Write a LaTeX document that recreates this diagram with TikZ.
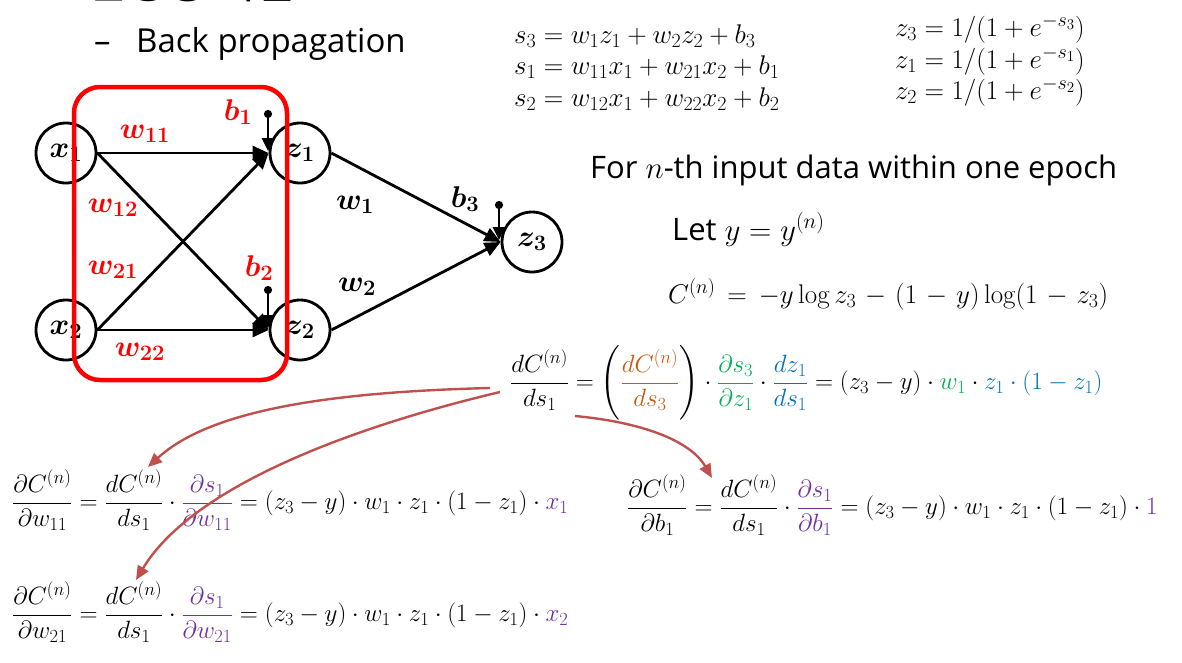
\RequirePackage{fix-cm}
\documentclass[tikz,border=0pt]{standalone}
\usepackage{amsmath}
\usepackage{bm}
\usepackage{fontspec}
\newfontfamily\txtfont{Open Sans}
\newfontfamily\krfont{Noto Sans CJK KR}
\usetikzlibrary{arrows.meta}
\DeclareMathSizes{25}{25}{18.5}{14}
\DeclareMathSizes{27}{27}{20}{15}
\DeclareMathSizes{30}{30}{22}{16}
\definecolor{boxred}{HTML}{FF0000}
\definecolor{arrred}{HTML}{C0504D}
\definecolor{brn}{HTML}{C55A11}
\definecolor{grn}{HTML}{00B050}
\definecolor{blu}{HTML}{0070C0}
\definecolor{pur}{HTML}{7030A0}
\tikzset{
  neuron/.style={circle, draw, line width=2.8pt, minimum size=60pt, inner sep=0pt, font=\fontsize{30}{34}\selectfont},
  conn/.style={line width=2.8pt, -{Triangle[length=16pt,width=14pt]}},
  pinline/.style={line width=2.6pt, {Circle[length=8pt]}-{Triangle[length=13pt,width=12pt]}},
  wlab/.style={font=\fontsize{30}{34}\selectfont, inner sep=0pt},
  redlab/.style={wlab, text=boxred},
  eq/.style={font=\fontsize{25}{29}\selectfont, inner sep=0pt},
  topeq/.style={font=\fontsize{27}{31}\selectfont, inner sep=0pt},
  wideeq/.style={topeq, execute at begin node={\medmuskip=6mu plus 2mu minus 2mu\thickmuskip=8mu plus 2mu}},
  sans/.style={font=\txtfont\fontsize{31}{36}\selectfont, inner sep=0pt},
  curvearr/.style={draw=arrred, line width=2.4pt, -{Triangle[length=14pt,width=12pt]}},
}
\begin{document}
\begin{tikzpicture}[x=1pt,y=-1pt]
\useasboundingbox (0,0) rectangle (1182,662);
% title (cut off at the top edge, as in the reference)
\node[anchor=base west, inner sep=0pt, font=\krfont\fontsize{44}{50}\selectfont] (title) at (86,-1.5) {신경망 학습};
\node[anchor=base west, sans, font=\txtfont\fontsize{33}{38}\selectfont] (dash) at (94,52) {–};
\node[anchor=base west, sans, font=\txtfont\fontsize{33}{38}\selectfont] (sub) at (136,52) {Back propagation};
% network
\node[neuron] (x1) at (66,153) {$\bm{x_1}$};
\node[neuron] (x2) at (66,330) {$\bm{x_2}$};
\node[neuron] (z1) at (300,153) {$\bm{z_1}$};
\node[neuron] (z2) at (300,330) {$\bm{z_2}$};
\node[neuron] (z3) at (532,242) {$\bm{z_3}$};
\draw[conn] (x1.east) -- (z1.west);
\draw[conn] (x1.east) -- (z2.west);
\draw[conn] (x2.east) -- (z1.west);
\draw[conn] (x2.east) -- (z2.west);
\draw[conn] (z1.east) -- (z3.west);
\draw[conn] (z2.east) -- (z3.west);
\coordinate (p1) at (268,110);
\coordinate (q1) at (268,151);
\coordinate (p2) at (268,286);
\coordinate (q2) at (268,328);
\coordinate (p3) at (499,201);
\coordinate (q3) at (499,240);
\draw[pinline] (p1) -- (q1);
\draw[pinline] (p2) -- (q2);
\draw[pinline] (p3) -- (q3);
\node[redlab] (lw11) at (145,134) {$\bm{w_{11}}$};
\node[redlab] (lw12) at (113,208) {$\bm{w_{12}}$};
\node[redlab] (lw21) at (113,270) {$\bm{w_{21}}$};
\node[redlab] (lw22) at (140,352) {$\bm{w_{22}}$};
\node[redlab] (lb1) at (238,112) {$\bm{b_1}$};
\node[redlab] (lb2) at (259,268) {$\bm{b_2}$};
\node[wlab] (lw1) at (355,205) {$\bm{w_1}$};
\node[wlab] (lw2) at (357,287) {$\bm{w_2}$};
\node[wlab] (lb3) at (465,199) {$\bm{b_3}$};
\draw[boxred, line width=4.5pt, rounded corners=26pt] (74,87) rectangle (287,380);
% top equations
\node[topeq, anchor=base west] (e1) at (514,43) {$s_3 = w_1z_1 + w_2z_2 + b_3$};
\node[topeq, anchor=base west] (e2) at (514,74) {$s_1 = w_{11}x_1 + w_{21}x_2 + b_1$};
\node[topeq, anchor=base west] (e3) at (514,106) {$s_2 = w_{12}x_1 + w_{22}x_2 + b_2$};
\node[topeq, anchor=base west] (f1) at (895,36) {$z_3 = 1/(1+e^{-s_3})$};
\node[topeq, anchor=base west] (f2) at (895,68) {$z_1 = 1/(1+e^{-s_1})$};
\node[topeq, anchor=base west] (f3) at (895,99) {$z_2 = 1/(1+e^{-s_2})$};
% text
\node[sans, anchor=base west] (fornth) at (590,178) {For $n$-th input data within one epoch};
\node[sans, anchor=base west] (lety) at (672,240) {Let $y = y^{(n)}$};
\node[wideeq, anchor=base west] (cost) at (668,303) {$C^{(n)} = -y\log z_3 - (1-y)\log(1-z_3)$};
% chain rule
\node[eq, anchor=west] (main) at (510,383) {$\displaystyle \frac{dC^{(n)}}{ds_1} = \left(\textcolor{brn}{\frac{dC^{(n)}}{ds_3}}\right)\cdot\textcolor{grn}{\frac{\partial s_3}{\partial z_1}}\cdot\textcolor{blu}{\frac{dz_1}{ds_1}} = (z_3-y)\cdot\textcolor{grn}{w_1}\cdot\textcolor{blu}{z_1\cdot(1-z_1)}$};
\node[eq, anchor=west] (gw11) at (12,500) {$\displaystyle \frac{\partial C^{(n)}}{\partial w_{11}} = \frac{dC^{(n)}}{ds_1}\cdot\textcolor{pur}{\frac{\partial s_1}{\partial w_{11}}} = (z_3-y)\cdot w_1\cdot z_1\cdot(1-z_1)\cdot\textcolor{pur}{x_1}$};
\node[eq, anchor=west] (gw21) at (12,612) {$\displaystyle \frac{\partial C^{(n)}}{\partial w_{21}} = \frac{dC^{(n)}}{ds_1}\cdot\textcolor{pur}{\frac{\partial s_1}{\partial w_{21}}} = (z_3-y)\cdot w_1\cdot z_1\cdot(1-z_1)\cdot\textcolor{pur}{x_2}$};
\node[eq, anchor=west] (gb1) at (627,505) {$\displaystyle \frac{\partial C^{(n)}}{\partial b_1} = \frac{dC^{(n)}}{ds_1}\cdot\textcolor{pur}{\frac{\partial s_1}{\partial b_1}} = (z_3-y)\cdot w_1\cdot z_1\cdot(1-z_1)\cdot\textcolor{pur}{1}$};
% curved arrows
\coordinate (s1) at (490,388);
\coordinate (s2) at (500,392);
\coordinate (s3) at (575,416);
\coordinate (t1) at (148,467);
\coordinate (t2) at (136,580);
\coordinate (t3) at (712,478);
\draw[curvearr] (s1) .. controls (330,392) and (210,410) .. (t1);
\draw[curvearr] (s2) .. controls (340,430) and (190,490) .. (t2);
\draw[curvearr] (s3) .. controls (640,422) and (690,440) .. (t3);
\end{tikzpicture}
\end{document}
